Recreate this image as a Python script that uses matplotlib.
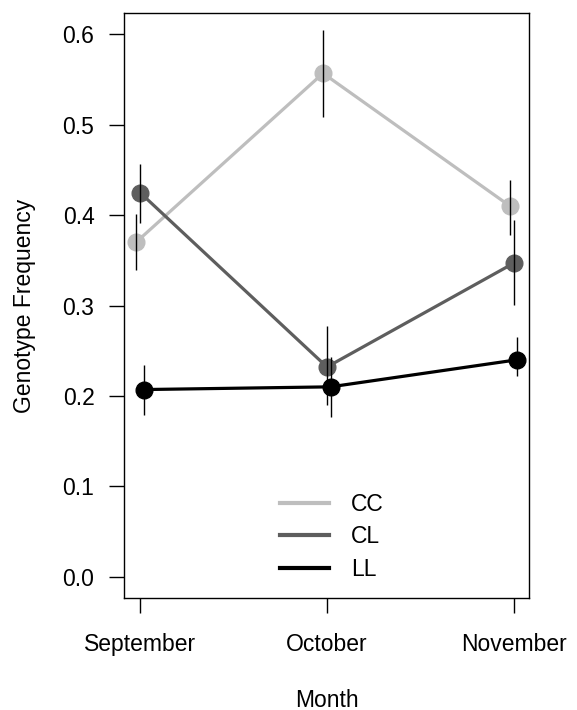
import numpy as np
import matplotlib
matplotlib.use("Agg")
import matplotlib.pyplot as plt

plt.rcParams["font.family"] = ["Liberation Sans", "DejaVu Sans"]

months = ["September", "October", "November"]
genotypes = ["CC", "CL", "LL"]
freq_cc = [0.370, 0.557, 0.410]
low_cc = [0.339, 0.509, 0.378]
high_cc = [0.401, 0.605, 0.439]
freq_cl = [0.425, 0.232, 0.347]
low_cl = [0.391, 0.190, 0.301]
high_cl = [0.457, 0.277, 0.395]
freq_ll = [0.207, 0.210, 0.240]
low_ll = [0.179, 0.177, 0.222]
high_ll = [0.234, 0.243, 0.2655]

COLORS = ["#BEBEBE", "#5E5E5E", "#000000"]
DODGE = [-0.021, 0.0, 0.019]
FS = 16.5

fig = plt.figure(figsize=(5.77, 7.10), dpi=100)
ax = fig.add_axes([0.2154, 0.1573, 0.7009, 0.8248])

x = np.arange(1, len(months) + 1)
series = [(freq_cc, low_cc, high_cc), (freq_cl, low_cl, high_cl), (freq_ll, low_ll, high_ll)]
for (m, lo, hi), col, dx, name in zip(series, COLORS, DODGE, genotypes):
    xs = x + dx
    ax.plot(xs, m, "-", color=col, lw=2.3, marker="o", ms=12, label=name, zorder=2)
    ax.vlines(xs, lo, hi, color="black", lw=1.0, zorder=3)

ax.set_xlim(0.916, 3.079)
ax.set_ylim(-0.024, 0.624)
ax.set_xticks(x)
ax.set_xticklabels(months)
yt = np.arange(0, 0.61, 0.1)
ax.set_yticks(yt)
ax.set_yticklabels([f"{v:.1f}" for v in yt])
ax.tick_params(axis="both", direction="out", length=10.5, width=1.0, labelsize=FS)
ax.tick_params(axis="x", pad=14.5)
ax.tick_params(axis="y", pad=11)
for s in ax.spines.values():
    s.set_linewidth(1.0)

ax.set_xlabel("Month", fontsize=FS, va="center")
ax.xaxis.set_label_coords(0.5, -0.1737)
ax.set_ylabel("Genotype Frequency", fontsize=FS, va="center")
ax.yaxis.set_label_coords(-0.2456, 0.5)

leg_handles = [plt.Line2D([], [], color=c, lw=3) for c in COLORS]
ax.legend(leg_handles, genotypes, loc="center", bbox_to_anchor=(0.513, 0.105),
          frameon=False, fontsize=FS, handlelength=2.15, handletextpad=0.95,
          labelspacing=0.42, borderpad=0)

fig.savefig("out.png", dpi=100)
